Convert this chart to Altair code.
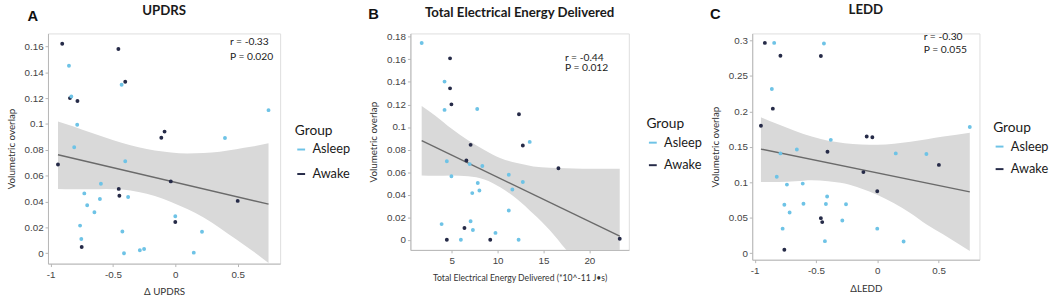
import altair as alt
import pandas as pd

LIGHT = "#6ec3e6"
DARK = "#262b48"

# ---------------- Panel A : UPDRS ----------------
a_awake_x = [-0.906, -0.456, -0.401, -0.844, -0.784, -0.112, -0.086, -0.940, -0.036, -0.453, -0.448, 0.0, 0.5, -0.75]
a_awake_y = [0.162, 0.158, 0.1326, 0.120, 0.1177, 0.0893, 0.0941, 0.0687, 0.0556, 0.0498, 0.0445, 0.0242, 0.0405, 0.0048]
a_asleep_x = [-0.852, -0.833, -0.430, -0.786, -0.810, -0.401, 0.398, 0.747, -0.596, -0.729, -0.604, -0.706,
              -0.648, -0.378, -0.763, -0.753, -0.424, -0.411, -0.284, -0.25, 0.0, 0.214, 0.148]
a_asleep_y = [0.145, 0.1213, 0.1303, 0.0994, 0.082, 0.0712, 0.0891, 0.1107, 0.0538, 0.0463, 0.042, 0.0372,
              0.0317, 0.0435, 0.0214, 0.0111, 0.0169, 0.0, 0.0023, 0.0033, 0.0287, 0.0166, 0.0005]
a_fit_x = [-0.940, 0.747]
a_fit_y = [0.0762, 0.038]
a_band_x = [-0.940, -0.815, -0.685, -0.555, -0.424, -0.294, -0.164, -0.034, 0.096, 0.227, 0.357, 0.487, 0.617, 0.747]
a_band_hi = [0.1019, 0.0981, 0.0936, 0.0893, 0.0853, 0.0820, 0.0795, 0.0780, 0.0772, 0.0775, 0.0785, 0.0805, 0.0825, 0.0850]
a_band_lo = [0.0498, 0.0496, 0.0496, 0.0498, 0.0493, 0.0473, 0.0443, 0.0397, 0.0342, 0.0277, 0.0196, 0.0108, 0.0020, -0.0075]
a_stats = ["r = -0.33", "P = 0.020"]
a_stats_x = [0.4375, 0.4375]
a_stats_y = [0.163, 0.152]
a_xticks = [-1, -0.5, 0, 0.5]
a_yticks = [0, 0.02, 0.04, 0.06, 0.08, 0.1, 0.12, 0.14, 0.16]

# ---------------- Panel B : Total Electrical Energy Delivered ----------------
b_awake_x = [4.82, 4.82, 4.97, 12.33, 7.06, 12.75, 6.6, 16.63, 6.39, 4.47, 9.2, 23.31]
b_awake_y = [0.1609, 0.1343, 0.1201, 0.1114, 0.0842, 0.0836, 0.0703, 0.0634, 0.0104, 0.0, 0.0, 0.0009]
b_asleep_x = [1.73, 4.22, 4.22, 7.78, 4.47, 4.97, 6.96, 8.34, 7.84, 7.24, 8.02, 11.22, 11.61, 12.75, 13.5,
              11.22, 3.90, 7.06, 7.31, 6.0, 9.77, 12.29]
b_asleep_y = [0.1745, 0.1403, 0.1152, 0.116, 0.0697, 0.0564, 0.0671, 0.0654, 0.0503, 0.0414, 0.0437, 0.0576,
              0.0446, 0.0512, 0.0868, 0.026, 0.0139, 0.0165, 0.0087, 0.0, 0.0061, 0.0]
b_fit_x = [1.73, 23.31]
b_fit_y = [0.088, 0.0032]
b_band_x = [1.73, 3.22, 5.0, 6.78, 8.56, 10.33, 12.11, 13.89, 15.67, 17.45, 19.22, 21.0, 23.31]
b_band_hi = [0.1186, 0.110, 0.0984, 0.0883, 0.0796, 0.0723, 0.068, 0.0651, 0.0639, 0.0634, 0.0631, 0.0631, 0.0631]
b_band_lo = [0.057, 0.0567, 0.057, 0.0564, 0.0535, 0.0463, 0.0362, 0.0231, 0.0087, -0.0087, -0.026, -0.043, -0.065]
b_stats = ["r = -0.44", "P = 0.012"]
b_stats_x = [17.34, 17.34]
b_stats_y = [0.1612, 0.152]
b_xticks = [5, 10, 15, 20]
b_yticks = [0, 0.02, 0.04, 0.06, 0.08, 0.1, 0.12, 0.14, 0.16, 0.18]

# ---------------- Panel C : LEDD ----------------
c_awake_x = [-0.917, -0.790, -0.460, -0.852, -0.949, -0.086, -0.040, -0.406, -0.113, 0.503, 0.0, -0.460, -0.449, -0.758]
c_awake_y = [0.2967, 0.2786, 0.2782, 0.204, 0.1799, 0.1646, 0.1637, 0.1433, 0.1145, 0.1247, 0.0876, 0.0496, 0.044, 0.0051]
c_asleep_x = [-0.841, -0.435, -0.860, -0.379, 0.755, -0.656, -0.790, 0.151, 0.401, -0.820, -0.737, -0.608,
              -0.409, -0.758, -0.602, -0.419, -0.255, -0.715, -0.285, -0.772, 0.0, -0.427, 0.215]
c_asleep_y = [0.2967, 0.2958, 0.2318, 0.16, 0.178, 0.1465, 0.1409, 0.1409, 0.14, 0.108, 0.0969, 0.0983,
              0.0802, 0.0686, 0.07, 0.0695, 0.0691, 0.0575, 0.0464, 0.0348, 0.0348, 0.0172, 0.0167]
c_fit_x = [-0.949, 0.755]
c_fit_y = [0.147, 0.0867]
c_band_x = [-0.949, -0.804, -0.669, -0.535, -0.401, -0.266, -0.132, 0.003, 0.137, 0.272, 0.406, 0.540, 0.755]
c_band_hi = [0.1919, 0.1817, 0.1725, 0.1646, 0.1586, 0.1553, 0.1535, 0.153, 0.1544, 0.1572, 0.1609, 0.1646, 0.1701]
c_band_lo = [0.1006, 0.1006, 0.1015, 0.1029, 0.1015, 0.0983, 0.0913, 0.0821, 0.0705, 0.0566, 0.0403, 0.0264, 0.0032]
c_stats = ["r = -0.30", "P = 0.055"]
c_stats_x = [0.379, 0.379]
c_stats_y = [0.3046, 0.287]
c_xticks = [-1, -0.5, 0, 0.5]
c_yticks = [0, 0.05, 0.1, 0.15, 0.2, 0.25, 0.3]

groups = ["Asleep", "Awake"]


def panel(letter, title, xtitle, xtitle_size, awake_x, awake_y, asleep_x, asleep_y, fit_x, fit_y,
          band_x, band_hi, band_lo, stats, stats_x, stats_y, xdom, ydom, xticks, yticks,
          w, h, leg_x, leg_y, leg_pad, row_pad, letter_x, letter_y, title_y):
    pts = pd.DataFrame({
        "x": awake_x + asleep_x,
        "y": awake_y + asleep_y,
        "Group": ["Awake"] * len(awake_x) + ["Asleep"] * len(asleep_x),
    })
    fit = pd.DataFrame({"x": fit_x, "y": fit_y})
    band = pd.DataFrame({"x": band_x, "hi": band_hi, "lo": band_lo})
    ann = pd.DataFrame({"x": stats_x, "y": stats_y, "t": stats})
    let = pd.DataFrame({"t": [letter]})
    ttl = pd.DataFrame({"t": [title]})

    xax = alt.Axis(values=xticks, tickCount=30, title=xtitle, labelExpr="datum.value + ''", grid=False,
                   labelOverlap=False, domainColor="#b5b5b5", tickColor="#b5b5b5", tickSize=3,
                   labelFont="Liberation Sans", labelFontSize=10, labelColor="#444",
                   titleFont="Lato", titleFontSize=xtitle_size, titleFontWeight="normal", titleColor="#333",
                   labelPadding=3, titlePadding=8)
    yax = alt.Axis(values=yticks, tickCount=30, title="Volumetric overlap", labelExpr="datum.value + ''",
                   grid=False, labelOverlap=False, domainColor="#b5b5b5", tickColor="#b5b5b5", tickSize=3,
                   labelFont="Liberation Sans", labelFontSize=10, labelColor="#444",
                   titleFont="Lato", titleFontSize=10, titleFontWeight="normal", titleColor="#333",
                   labelPadding=2, titlePadding=8)
    xs = alt.Scale(domain=xdom, nice=False, zero=False)
    ys = alt.Scale(domain=ydom, nice=False, zero=False)

    band_l = alt.Chart(band).mark_area(color="#d9d9d9", opacity=1, clip=True, interpolate="monotone").encode(
        x=alt.X("x:Q", scale=xs, axis=xax), y=alt.Y("lo:Q", scale=ys, axis=yax), y2="hi:Q")
    fit_l = alt.Chart(fit).mark_line(color="#6a6a6a", strokeWidth=1.4, clip=True).encode(
        x=alt.X("x:Q", scale=xs), y=alt.Y("y:Q", scale=ys))
    pts_l = alt.Chart(pts).mark_point(filled=False, shape="circle", size=4, strokeWidth=2, opacity=1).encode(
        x=alt.X("x:Q", scale=xs), y=alt.Y("y:Q", scale=ys),
        color=alt.Color("Group:N", scale=alt.Scale(domain=groups, range=[LIGHT, DARK]),
                        legend=alt.Legend(orient="none", legendX=leg_x, legendY=leg_y, padding=leg_pad,
                                          title="Group", symbolType="stroke", symbolStrokeWidth=2,
                                          symbolSize=64, titleFont="Lato", titleFontSize=14,
                                          titleFontWeight="normal", titleColor="#1a1a1a",
                                          labelFont="Lato", labelFontSize=13, labelColor="#1a1a1a",
                                          rowPadding=row_pad, titlePadding=5, labelOffset=5)))
    ann_l = alt.Chart(ann).mark_text(align="left", baseline="middle", font="Lato", fontSize=10.5,
                                     color="#1a1a1a").encode(
        x=alt.X("x:Q", scale=xs), y=alt.Y("y:Q", scale=ys), text="t:N")
    let_l = alt.Chart(let).mark_text(align="left", baseline="middle", font="Liberation Sans",
                                     fontSize=15, fontWeight="bold", color="#111").encode(
        x=alt.value(letter_x), y=alt.value(letter_y), text="t:N")
    ttl_l = alt.Chart(ttl).mark_text(align="center", baseline="middle", font="Lato",
                                     fontSize=13.5, fontWeight="bold", color="#1a1a1a").encode(
        x=alt.value(w / 2), y=alt.value(title_y), text="t:N")
    return alt.layer(band_l, fit_l, pts_l, ann_l, let_l, ttl_l).properties(width=w, height=h)


pa = panel("A", "UPDRS", "\u0394 UPDRS", 10, a_awake_x, a_awake_y, a_asleep_x, a_asleep_y, a_fit_x, a_fit_y,
           a_band_x, a_band_hi, a_band_lo, a_stats, a_stats_x, a_stats_y, [-1.02, 0.84], [-0.008, 0.17],
           a_xticks, a_yticks, 237, 235, 242, 83, 10, 11, -21, -18, -23)
pb = panel("B", "Total Electrical Energy Delivered", "Total Electrical Energy Delivered (*10^-11 J\u2022s)", 8.8,
           b_awake_x, b_awake_y, b_asleep_x, b_asleep_y, b_fit_x, b_fit_y,
           b_band_x, b_band_hi, b_band_lo, b_stats, b_stats_x, b_stats_y, [0.5, 24.3], [-0.009, 0.183],
           b_xticks, b_yticks, 223, 221, 241, 86, 0, 9, -43, -20, -21)
pc = panel("C", "LEDD", "\u0394LEDD", 10, c_awake_x, c_awake_y, c_asleep_x, c_asleep_y, c_fit_x, c_fit_y,
           c_band_x, c_band_hi, c_band_lo, c_stats, c_stats_x, c_stats_y, [-1.02, 0.834], [-0.009, 0.31],
           c_xticks, c_yticks, 232, 231, 246, 90, 0, 9, -43, -20, -23.5)

chart = alt.hconcat(pa, pb, pc, spacing=6).resolve_scale(
    x="independent", y="independent", color="independent"
).resolve_legend(color="independent").properties(
    padding={"left": 6, "top": 0, "right": 0, "bottom": 0}
).configure_view(stroke=None).configure(background="white")

chart.save("out.html", embed_options={"renderer": "svg", "actions": False})
